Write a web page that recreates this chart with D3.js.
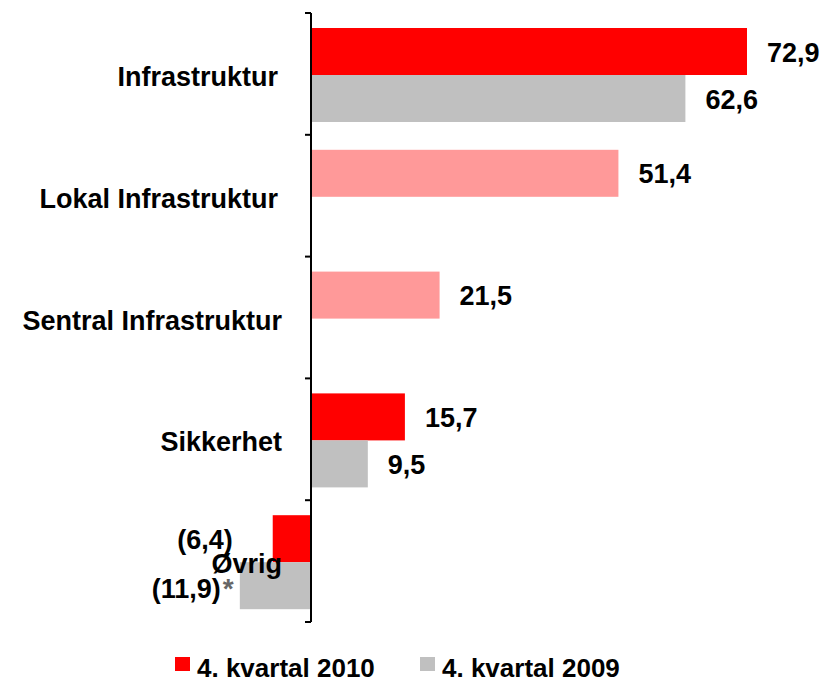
<!DOCTYPE html>
<html>
<head>
<meta charset="utf-8">
<script src="https://cdn.jsdelivr.net/npm/d3@7"></script>
<style>
  body { margin: 0; background: #fff; }
  svg text { font-family: "Liberation Sans", Arial, sans-serif; font-weight: bold; }
</style>
</head>
<body>
<script>
// categories and values (MNOK)
var categories = ['Infrastruktur', 'Lokal Infrastruktur', 'Sentral Infrastruktur', 'Sikkerhet', 'Øvrig'];
var q4_2010 = [72.9, null, null, 15.7, -6.4];
var q4_2009 = [62.6, null, null, 9.5, -11.9];
var subTotals = [null, 51.4, 21.5, null, null];
var seriesNames = ['4. kvartal 2010', '4. kvartal 2009'];

var width = 825, height = 679;
var colors = { red: '#ff0000', gray: '#c0c0c0', pink: '#ff9999' };

var svg = d3.select('body').append('svg').attr('width', width).attr('height', height);

var x = d3.scaleLinear().domain([0, 72.9]).range([311, 747]);
var y = d3.scaleBand().domain(categories).range([13, 622]);
var bw = 47, padTop = 15;

// flatten into marks
var bars = [];
categories.forEach(function (c, i) {
  if (q4_2010[i] != null) bars.push({ cat: c, v: q4_2010[i], slot: 0, fill: colors.red, s: 0 });
  if (q4_2009[i] != null) bars.push({ cat: c, v: q4_2009[i], slot: 1, fill: colors.gray, s: 1 });
  if (subTotals[i] != null) bars.push({ cat: c, v: subTotals[i], slot: 0, fill: colors.pink, s: 2 });
});

function fmt(v) {
  var s = d3.format('.1f')(Math.abs(v)).replace('.', ',');
  return v < 0 ? '(' + s + ')' : s;
}
function barMid(d) { return y(d.cat) + padTop + d.slot * bw + bw / 2; }

svg.selectAll('rect.bar')
  .data(bars)
  .enter()
  .append('rect')
  .attr('class', 'bar')
  .attr('x', function (d) { return Math.min(x(0), x(d.v)); })
  .attr('width', function (d) { return Math.abs(x(d.v) - x(0)); })
  .attr('y', function (d) { return y(d.cat) + padTop + d.slot * bw; })
  .attr('height', bw)
  .attr('fill', function (d) { return d.fill; });

// value labels
svg.selectAll('text.val')
  .data(bars)
  .enter()
  .append('text')
  .attr('class', 'val')
  .attr('font-size', 27)
  .attr('fill', '#000')
  .attr('text-anchor', function (d) { return d.v < 0 ? 'end' : 'start'; })
  .attr('x', function (d) {
    if (d.v >= 0) return x(d.v) + 20;
    return x(d.v) - (d.s === 0 ? 40 : 19);
  })
  .attr('y', function (d) { return barMid(d) + 10 + (d.v < 0 && d.s === 1 ? 2 : 0); })
  .text(function (d) { return fmt(d.v); });

// asterisk after the negative 2009 label
bars.filter(function (d) { return d.v < 0 && d.s === 1; }).forEach(function (d) {
  svg.append('text')
    .attr('x', x(d.v) - 17)
    .attr('y', barMid(d) + 12)
    .attr('font-size', 28)
    .attr('fill', '#666')
    .text('*');
});

// category axis
var g = svg.append('g').attr('transform', 'translate(311,0)');
g.append('line').attr('x1', 0).attr('x2', 0).attr('y1', 13).attr('y2', 622)
  .attr('stroke', '#000').attr('stroke-width', 2);
var tickPos = categories.map(function (c) { return y(c); }).concat([y.range()[1]]);
g.selectAll('line.tk')
  .data(tickPos)
  .enter()
  .append('line')
  .attr('class', 'tk')
  .attr('x1', -6).attr('x2', 0)
  .attr('y1', function (d) { return d; })
  .attr('y2', function (d) { return d; })
  .attr('stroke', '#000').attr('stroke-width', 2);

svg.selectAll('text.cat')
  .data(categories)
  .enter()
  .append('text')
  .attr('class', 'cat')
  .attr('x', function (c, i) { return i < 2 ? 278 : 282; })
  .attr('y', function (c) { return y(c) + y.bandwidth() / 2 + 12; })
  .attr('text-anchor', 'end')
  .attr('font-size', 27)
  .attr('fill', '#000')
  .text(function (c) { return c; });

// legend
var legend = svg.append('g');
var legX = [175, 420];
[colors.red, colors.gray].forEach(function (col, i) {
  legend.append('rect').attr('x', legX[i]).attr('y', 657).attr('width', 15).attr('height', 14).attr('fill', col);
  legend.append('text').attr('x', legX[i] + 22).attr('y', 677).attr('font-size', 26).attr('fill', '#000').text(seriesNames[i]);
});
</script>
</body>
</html>
